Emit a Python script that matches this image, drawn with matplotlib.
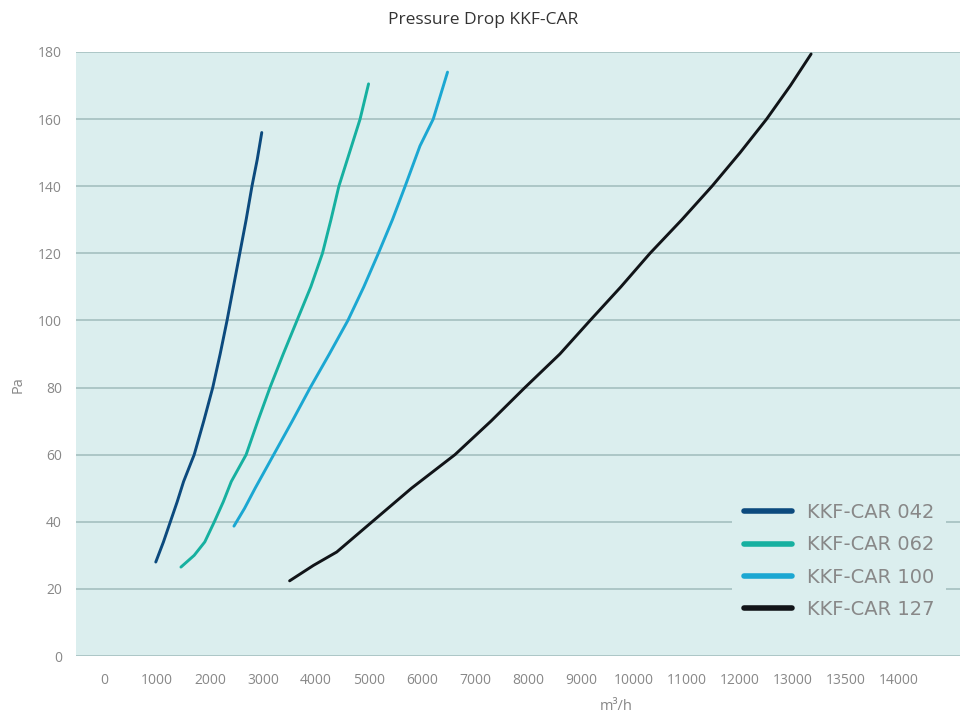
import numpy as np
import matplotlib.pyplot as plt

plt.rcParams['font.family'] = ['Open Sans', 'DejaVu Sans']

# curve data (m3/h, Pa)
x_042 = [975, 1120, 1250, 1380, 1500, 1700, 1880, 2050, 2190, 2320, 2440, 2560, 2680, 2790, 2890, 2975]
y_042 = [28, 34, 40, 46, 52, 60, 70, 80, 90, 100, 110, 120, 130, 140, 148, 156]

x_062 = [1450, 1700, 1900, 2080, 2250, 2400, 2680, 2900, 3130, 3380, 3640, 3900, 4120, 4280, 4430, 4630, 4830, 4990]
y_062 = [26.5, 30, 34, 40, 46, 52, 60, 70, 80, 90, 100, 110, 120, 130, 140, 150, 160, 170.5]

x_100 = [2450, 2650, 2850, 3200, 3550, 3890, 4250, 4600, 4900, 5175, 5440, 5680, 5960, 6210, 6480]
y_100 = [38.7, 44, 50, 60, 70, 80, 90, 100, 110, 120, 130, 140, 152, 160, 174]

x_127 = [3500, 3950, 4390, 5020, 5800, 6620, 7300, 7940, 8600, 9170, 9750, 10300, 10900, 11470, 12000, 12500, 12950, 13340]
y_127 = [22.4, 27, 31, 39.5, 50, 60, 70, 80, 90, 100, 110, 120, 130, 140, 150, 160, 170, 179.4]

series_names = ['KKF-CAR 042', 'KKF-CAR 062', 'KKF-CAR 100', 'KKF-CAR 127']
series_colors = ['#0c4a7e', '#16b0a0', '#1ba7d2', '#111418']

xtick_labels = ['0', '1000', '2000', '3000', '4000', '5000', '6000', '7000', '8000',
                '9000', '10000', '11000', '12000', '13000', '13500', '14000']
yticks = [0, 20, 40, 60, 80, 100, 120, 140, 160, 180]

fig = plt.figure(figsize=(9.67, 7.22), dpi=100)
ax = fig.add_axes([0.0786, 0.0914, 0.9142, 0.8366])
ax.set_facecolor('#dbeeee')

xs = [x_042, x_062, x_100, x_127]
ys = [y_042, y_062, y_100, y_127]
for xx, yy, name, c in zip(xs, ys, series_names, series_colors):
    ax.plot(xx, yy, color=c, lw=2.1, label=name,
            solid_capstyle='round', solid_joinstyle='round')

ax.set_xlim(-530, 16150)
ax.set_ylim(0, 180)
ax.set_yticks(yticks)
ax.set_xticks(np.arange(len(xtick_labels)) * 1000)
ax.set_xticklabels(xtick_labels)
ax.grid(axis='y', color='#a9c3c3', lw=1.3)
ax.set_axisbelow(True)
for s in ax.spines.values():
    s.set_visible(False)
ax.tick_params(length=0, colors='#888888', labelsize=10)
ax.tick_params(axis='x', pad=12)
ax.tick_params(axis='y', pad=10)

fig.text(0.5, 0.972, 'Pressure Drop KKF-CAR', ha='center', va='center',
         fontsize=12.5, color='#333333')
fig.text(0.019, 0.467, 'Pa', rotation=90, ha='center', va='center',
         fontsize=10.5, color='#888888')
fig.text(0.637, 0.021, 'm³/h', ha='center', va='center',
         fontsize=10.5, color='#888888')

leg = ax.legend(loc='lower right', bbox_to_anchor=(0.995, 0.026), frameon=True,
                facecolor='#dbeeee', edgecolor='none', framealpha=1,
                prop={'family': ['DejaVu Sans'], 'size': 14},
                handlelength=2.5, handletextpad=0.75,
                labelspacing=0.68, borderpad=0.6)
for line in leg.get_lines():
    line.set_linewidth(4)
for t in leg.get_texts():
    t.set_color('#888888')

fig.savefig('out.png', dpi=100)
